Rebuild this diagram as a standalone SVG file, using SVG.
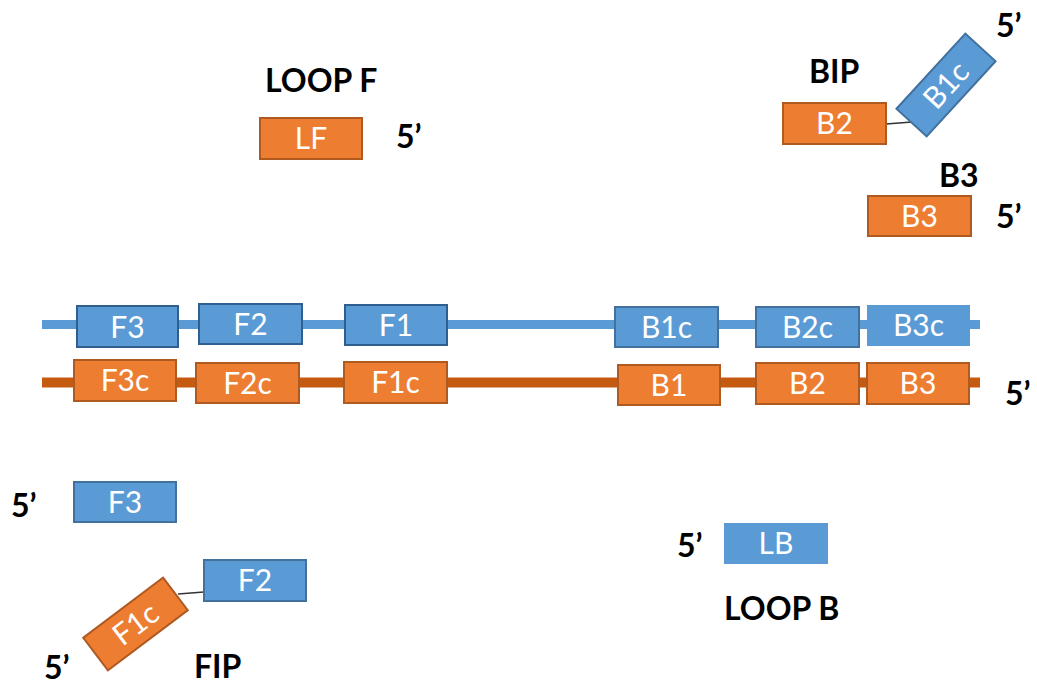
<svg xmlns="http://www.w3.org/2000/svg" width="1037" height="686" viewBox="0 0 1037 686">
<style>
.b{fill:#5b9bd5;stroke:#41719c;stroke-width:2}
.bd{fill:#5b9bd5;stroke:#2f5f8f;stroke-width:2}
.bn{fill:#5b9bd5;stroke:none}
.o{fill:#ed7d31;stroke:#ae5a21;stroke-width:2}
.t{font-family:Lato,"Liberation Sans",sans-serif;font-size:30px;fill:#fff;text-anchor:middle}
.l{font-family:Lato,"Liberation Sans",sans-serif;font-size:32px;font-weight:bold;fill:#000}
.c{stroke:#333;stroke-width:1.3;fill:none}
</style>
<rect width="1037" height="686" fill="#fff"/>
<g id="strands">
<line x1="42" y1="324.5" x2="980" y2="324.5" stroke="#5b9bd5" stroke-width="9"/>
<line x1="42" y1="382.5" x2="980" y2="382.5" stroke="#c55a11" stroke-width="10"/>
</g>
<g id="connectors">
<line class="c" x1="886" y1="124" x2="912" y2="122"/>
<line class="c" x1="178" y1="594" x2="204" y2="592"/>
</g>
<g id="top-F3"><rect class="bd" x="77" y="306" width="101" height="41"/><text class="t" x="127.5" y="337.5">F3</text></g>
<g id="top-F2"><rect class="bd" x="199" y="304" width="103" height="40"/><text class="t" x="250.5" y="335">F2</text></g>
<g id="top-F1"><rect class="bd" x="345" y="305" width="102" height="40"/><text class="t" x="396" y="336">F1</text></g>
<g id="top-B1c"><rect class="b" x="615" y="307" width="103" height="40"/><text class="t" x="666.5" y="338">B1c</text></g>
<g id="top-B2c"><rect class="b" x="756" y="307" width="103" height="40"/><text class="t" x="807.5" y="338">B2c</text></g>
<g id="top-B3c"><rect class="bn" x="867" y="305" width="103" height="41"/><text class="t" x="918.5" y="336">B3c</text></g>
<g id="bot-F3c"><rect class="o" x="74" y="360" width="102" height="41"/><text class="t" x="125" y="391">F3c</text></g>
<g id="bot-F2c"><rect class="o" x="196" y="363" width="103" height="40"/><text class="t" x="247.5" y="394">F2c</text></g>
<g id="bot-F1c"><rect class="o" x="344" y="362" width="103" height="41"/><text class="t" x="395.5" y="393">F1c</text></g>
<g id="bot-B1"><rect class="o" x="618" y="365" width="102" height="40"/><text class="t" x="669" y="396">B1</text></g>
<g id="bot-B2"><rect class="o" x="756" y="363" width="103" height="41"/><text class="t" x="807.5" y="394">B2</text></g>
<g id="bot-B3"><rect class="o" x="867" y="363" width="102" height="41"/><text class="t" x="918" y="394">B3</text></g>
<text class="l" x="1005" y="405">5’</text>
<g id="loopF">
<text class="l" x="265" y="92">LOOP F</text>
<rect class="o" x="260" y="118" width="102" height="41"/><text class="t" x="311" y="149">LF</text>
<text class="l" x="396" y="148">5’</text>
</g>
<g id="BIP">
<text class="l" x="809" y="83">BIP</text>
<rect class="o" x="783" y="103" width="103" height="41"/><text class="t" x="834.5" y="134">B2</text>
<g transform="translate(946,85) rotate(-47.5)"><rect class="b" x="-51" y="-20.5" width="102" height="41"/><text class="t" x="0" y="10.5">B1c</text></g>
<text class="l" x="996" y="37">5’</text>
</g>
<g id="B3primer">
<text class="l" x="939" y="187">B3</text>
<rect class="o" x="868" y="196" width="103" height="40"/><text class="t" x="919.5" y="227">B3</text>
<text class="l" x="996" y="228">5’</text>
</g>
<g id="F3primer">
<text class="l" x="11" y="517">5’</text>
<rect class="b" x="74" y="482" width="102" height="40"/><text class="t" x="125" y="513">F3</text>
</g>
<g id="FIP">
<rect class="b" x="204" y="560" width="102" height="41"/><text class="t" x="255" y="591">F2</text>
<g transform="translate(135.5,624) rotate(-37)"><rect class="o" x="-50" y="-20.5" width="100" height="41"/><text class="t" x="0" y="10.5">F1c</text></g>
<text class="l" x="44" y="679">5’</text>
<text class="l" x="194" y="678">FIP</text>
</g>
<g id="loopB">
<text class="l" x="677" y="557">5’</text>
<rect class="bn" x="724" y="523" width="104" height="41"/><text class="t" x="776" y="554">LB</text>
<text class="l" x="724" y="620">LOOP B</text>
</g>
</svg>
